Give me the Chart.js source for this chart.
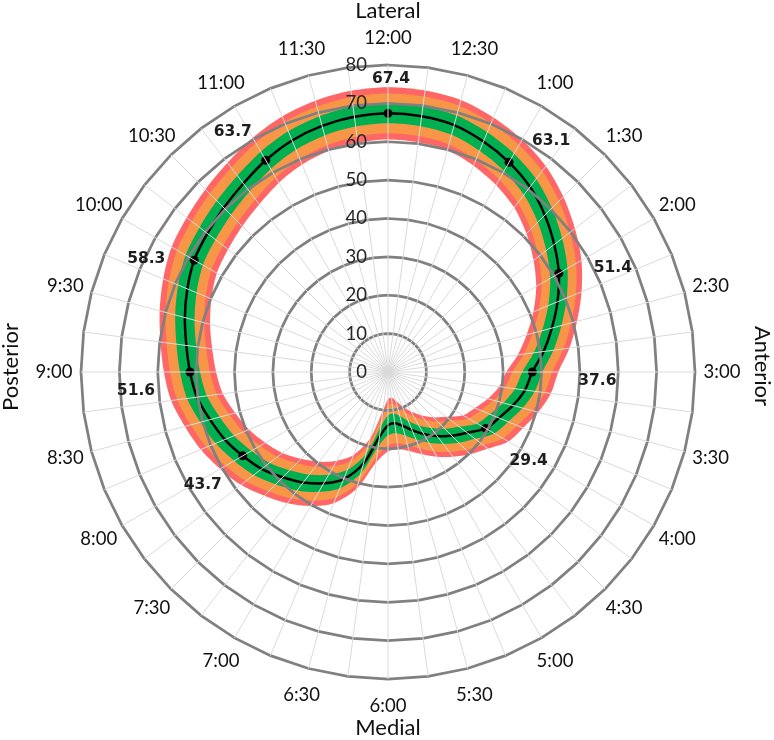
<!DOCTYPE html>
<html>
<head>
<meta charset="utf-8">
<script src="https://cdn.jsdelivr.net/npm/chart.js@4.4.1/dist/chart.umd.min.js"></script>
<style>
  html, body { margin: 0; padding: 0; background: #fff; }
  #wrap { width: 774px; height: 740px; }
</style>
</head>
<body>
<div id="wrap"><canvas id="clock-chart" width="774" height="740"></canvas></div>
<script>
(function () {
  "use strict";

  // clock face positions every 15 minutes, only half hours are labelled
  var clockLabels = [
    "12:00", "", "12:30", "", "1:00", "", "1:30", "", "2:00", "", "2:30", "",
    "3:00", "", "3:30", "", "4:00", "", "4:30", "", "5:00", "", "5:30", "",
    "6:00", "", "6:30", "", "7:00", "", "7:30", "", "8:00", "", "8:30", "",
    "9:00", "", "9:30", "", "10:00", "", "10:30", "", "11:00", "", "11:30", ""
  ];

  var meanValues = [
    67.4, 67.2, 66.6, 65.0,
    63.1, 60.8, 57.8, 54.6,
    51.4, 47.8, 44.2, 40.9,
    37.6, 36.0, 33.7, 31.3,
    29.4, 26.0, 23.5, 21.0,
    18.7, 16.4, 14.5, 13.5,
    13.9, 17.0, 24.7, 30.2,
    33.5, 36.3, 38.8, 41.5,
    43.7, 46.0, 48.0, 50.2,
    51.6, 53.0, 54.8, 56.6,
    58.3, 59.3, 60.5, 61.9,
    63.7, 65.3, 66.4, 67.1
  ];

  // half widths of the coloured bands around the mean
  var greenSpread = 2.6;
  var orangeSpread = 5.2;
  var redSpread = 6.8;

  // positions that get a dot and a value label
  var markedPoints = [0, 4, 8, 12, 16, 32, 36, 40, 44];

  var radialTicks = { min: 0, max: 80, step: 10 };

  var FONT = "Lato, 'Noto Sans', sans-serif";

  // where each value label sits relative to its dot
  var labelOffsets = [
    [3, -34], [42, -21], [54, -5], [65, 9], [43, 33],
    [-40, 29], [-54, 19], [-48, -1], [-33, -28]
  ];

  function shifted(values, delta) {
    return values.map(function (v) {
      return v + delta;
    });
  }

  function bandPair(name, color, spread) {
    var edge = {
      borderWidth: 0,
      borderColor: "rgba(0,0,0,0)",
      pointRadius: 0,
      tension: 0.3,
    };
    return [
      Object.assign({}, edge, {
        label: name + " upper",
        data: shifted(meanValues, spread),
        backgroundColor: color,
        fill: "+1",
      }),
      Object.assign({}, edge, {
        label: name + " lower",
        data: shifted(meanValues, -spread),
        fill: false,
      }),
    ];
  }

  var overlayPlugin = {
    id: "clockOverlay",
    afterDraw: function (chart) {
      var ctx = chart.ctx;
      var scale = chart.scales.r;
      var cx = scale.xCenter;
      var cy = scale.yCenter;
      ctx.save();
      ctx.textBaseline = "middle";

      // radial tick labels, to the left of the 12:00 spoke
      ctx.font = "18.5px " + FONT;
      ctx.fillStyle = "#262626";
      ctx.textAlign = "right";
      scale.ticks.forEach(function (t) {
        var d = scale.getDistanceFromCenterForValue(t.value);
        ctx.fillText(String(t.value), cx - 21, cy - d);
      });

      // clock labels round the outside
      ctx.fillStyle = "#111111";
      ctx.textAlign = "center";
      clockLabels.forEach(function (lbl, i) {
        if (!lbl) {
          return;
        }
        var p = scale.getPointPosition(i, scale.drawingArea + 27);
        ctx.fillText(lbl, p.x, p.y);
      });

      // value labels next to the dots
      var meta = chart.getDatasetMeta(0);
      ctx.font = "bold 15.5px 'DejaVu Sans', sans-serif";
      ctx.fillStyle = "#1e1e1e";
      markedPoints.forEach(function (idx, k) {
        var pt = meta.data[idx];
        ctx.fillText(
          meanValues[idx].toFixed(1),
          pt.x + labelOffsets[k][0],
          pt.y + labelOffsets[k][1]
        );
      });

      // anatomical side titles
      ctx.font = "22px " + FONT;
      ctx.fillStyle = "#111111";
      ctx.fillText("Lateral", cx, 11);
      ctx.fillText("Medial", cx, 728);
      ctx.save();
      ctx.translate(11, 367);
      ctx.rotate(-Math.PI / 2);
      ctx.fillText("Posterior", 0, 0);
      ctx.restore();
      ctx.save();
      ctx.translate(762, 366);
      ctx.rotate(Math.PI / 2);
      ctx.fillText("Anterior", 0, 0);
      ctx.restore();

      ctx.restore();
    },
  };

  var datasets = [
    {
      label: "Mean",
      data: meanValues,
      borderColor: "#000000",
      borderWidth: 2.5,
      tension: 0.3,
      fill: false,
      pointRadius: function (c) {
        return markedPoints.indexOf(c.dataIndex) >= 0 ? 4.5 : 0;
      },
      pointBackgroundColor: "#000000",
      pointBorderWidth: 0,
    },
  ]
    .concat(bandPair("green", "#00B050", greenSpread))
    .concat(bandPair("orange", "#F79646", orangeSpread))
    .concat(bandPair("red", "#FF6666", redSpread));

  new Chart(document.getElementById("clock-chart"), {
    type: "radar",
    data: {
      labels: clockLabels,
      datasets: datasets,
    },
    options: {
      responsive: false,
      animation: false,
      events: [],
      layout: {
        padding: { left: 81, right: 79, top: 65, bottom: 61 },
      },
      plugins: {
        legend: { display: false },
        tooltip: { enabled: false },
      },
      scales: {
        r: {
          min: radialTicks.min,
          max: radialTicks.max,
          startAngle: 0,
          ticks: { display: false, stepSize: radialTicks.step },
          pointLabels: { display: false },
          grid: { color: "#808080", lineWidth: 2.75, z: 1 },
          angleLines: { color: "#dadada", lineWidth: 1 },
        },
      },
    },
    plugins: [overlayPlugin],
  });
})();
</script>
</body>
</html>
